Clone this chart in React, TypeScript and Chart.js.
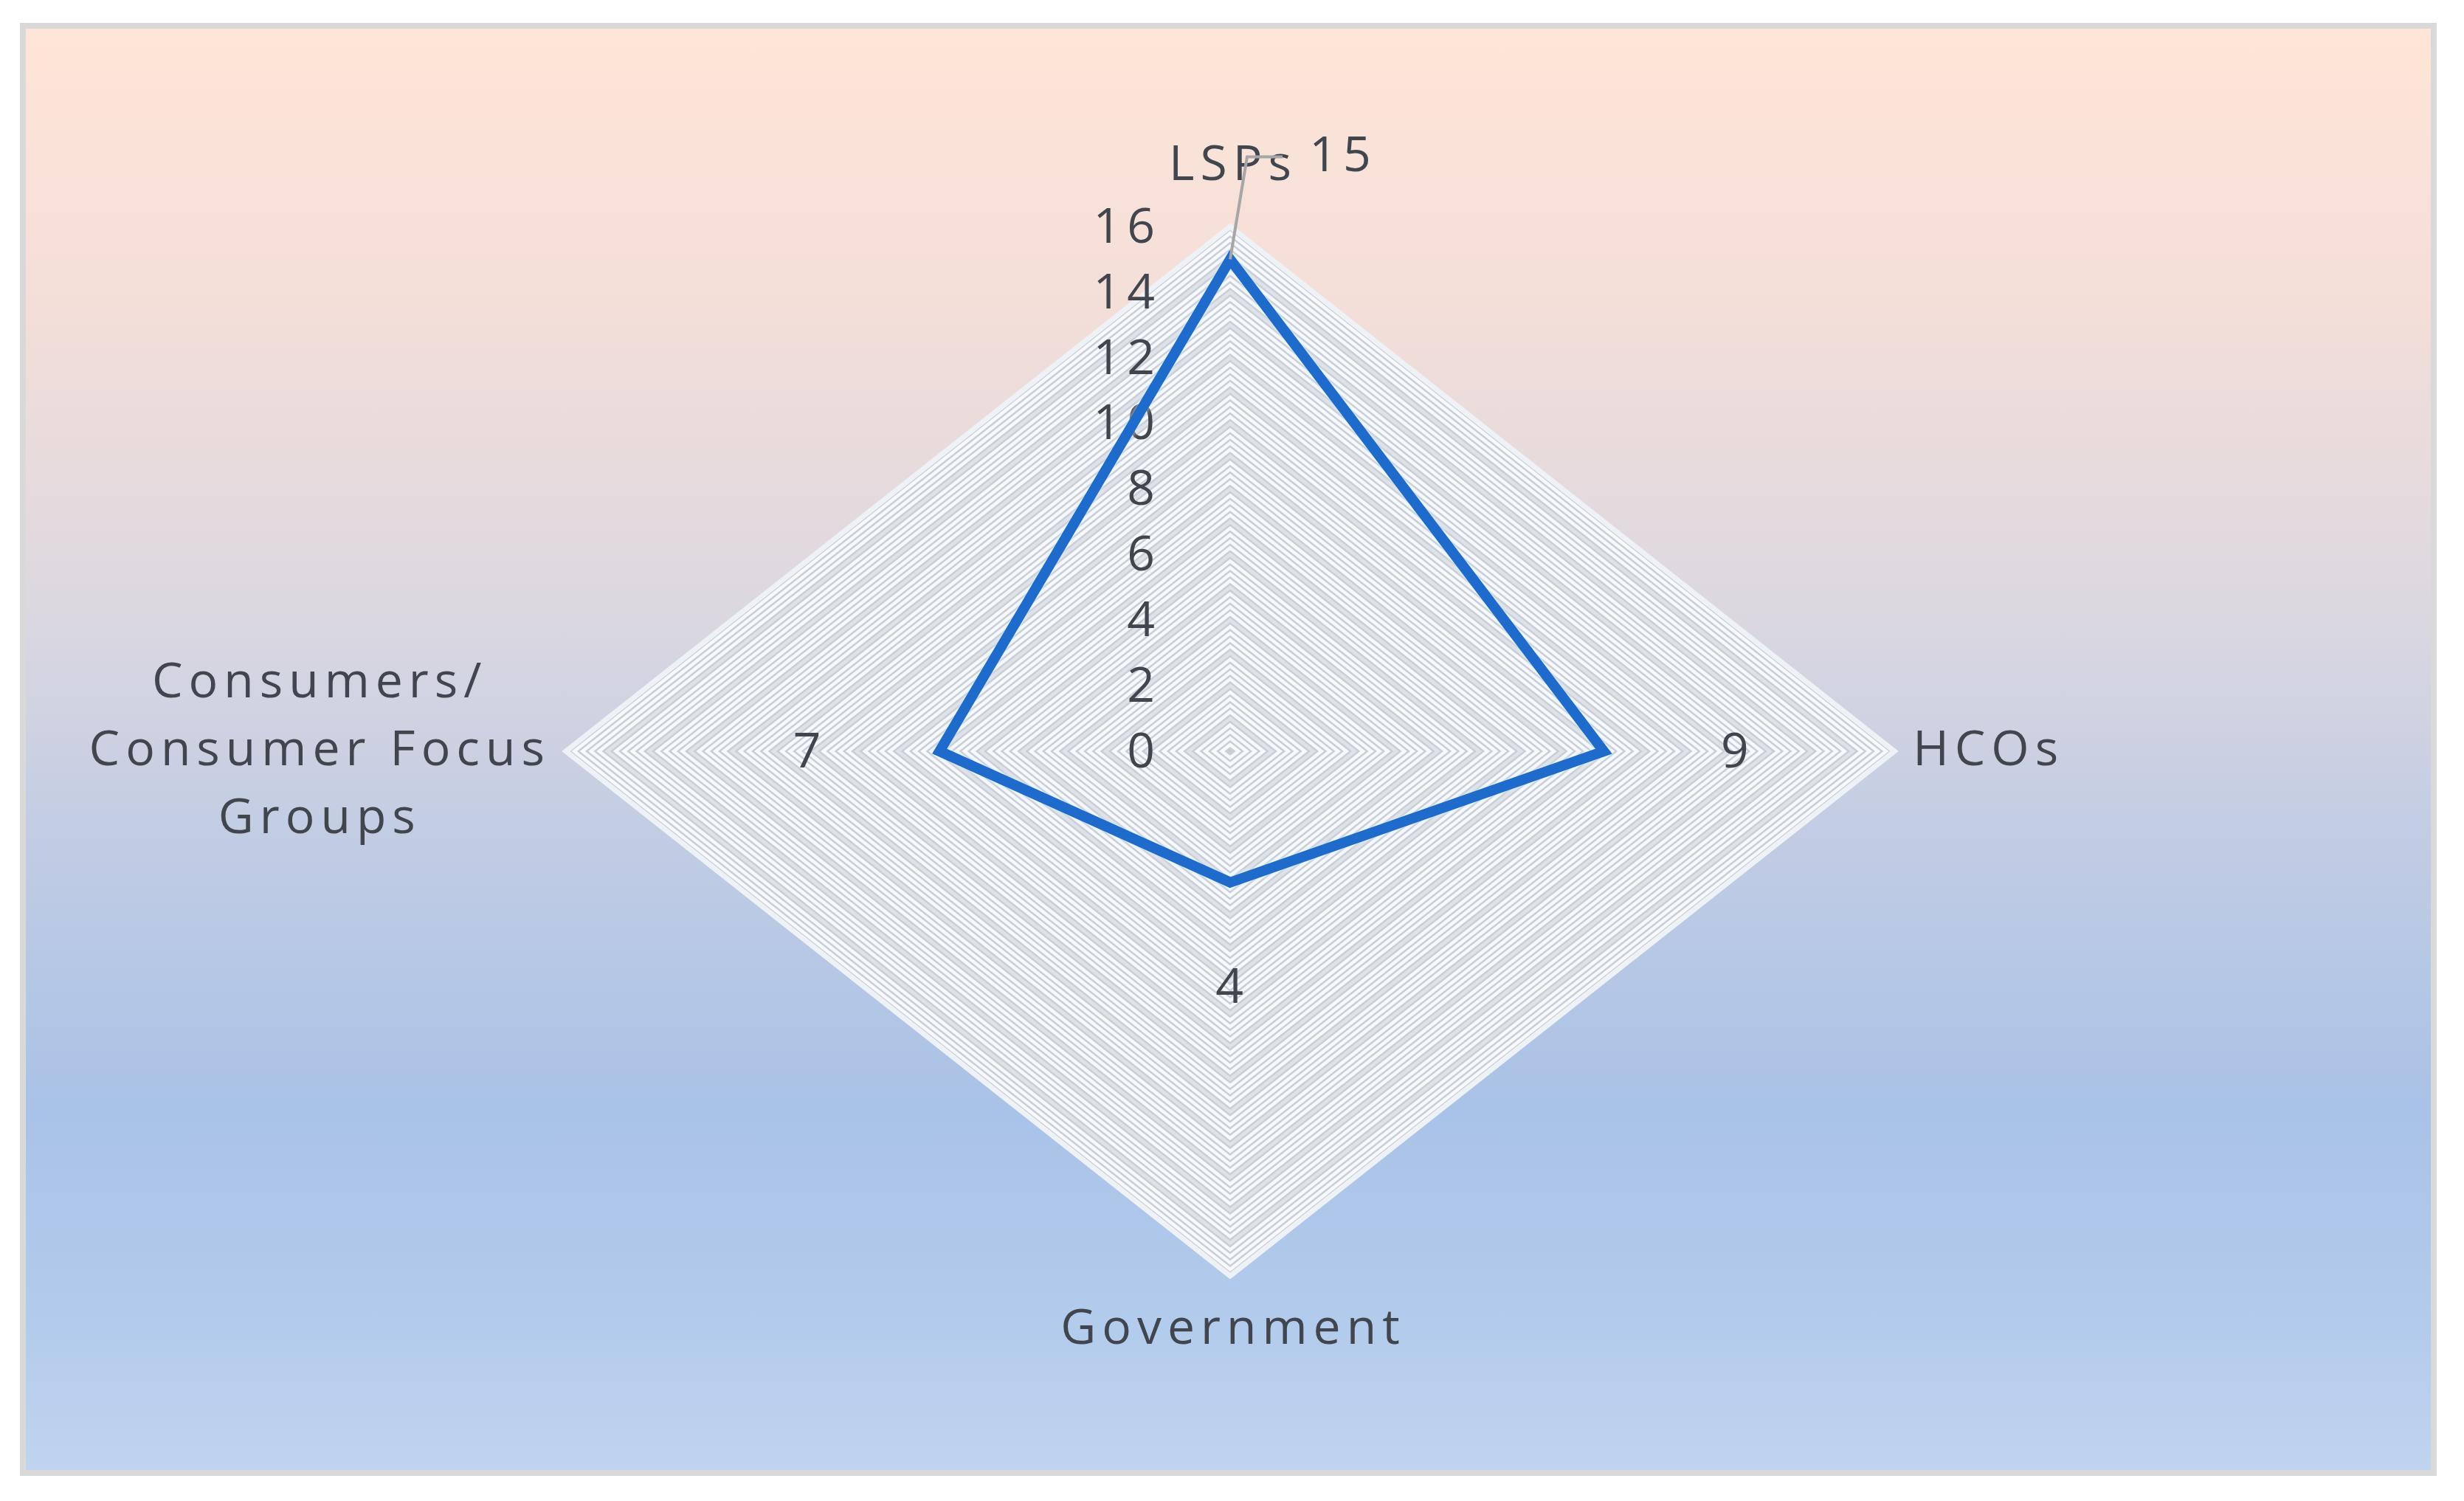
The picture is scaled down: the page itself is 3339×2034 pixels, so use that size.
import React, { useEffect, useRef } from 'react';
import { Chart, registerables, RadialLinearScale } from 'chart.js';

// ---------- data ----------
const categories: (string | string[])[] = [
  'LSPs',
  'HCOs',
  'Government',
  ['Consumers/', 'Consumer Focus', 'Groups'],
];
const seriesValues = [15, 9, 4, 7];
const tickLabels = ['0', '2', '4', '6', '8', '10', '12', '14', '16'];
const axisMin = 0;
const axisMax = 16;
const gridStep = 0.2;

// ---------- style ----------
const FONT_FAMILY = '"Open Sans", "DejaVu Sans", sans-serif';
const FONT_SIZE = 66;
const LETTER_SPACING = '8px';
const TEXT_COLOR = '#41464e';
const LINE_COLOR = '#1f6bcb';
const CANVAS_W = 3339;
const CANVAS_H = 2034;
const CENTER_X = 1667;
const CENTER_Y = 1018;
const RADIUS_Y = 711;
const KX = 1.266; // horizontal stretch of the radar (Excel-like non-square plot)

class StretchedRadialScale extends RadialLinearScale {
  static id = 'stretchedRadial';
  static defaults = RadialLinearScale.defaults;

  getPointPosition(index: number, distanceFromCenter: number, additionalAngle = 0) {
    const p: any = super.getPointPosition(index, distanceFromCenter, additionalAngle);
    return { x: this.xCenter + (p.x - this.xCenter) * KX, y: p.y, angle: p.angle };
  }

  setCenterPoint() {
    this.xCenter = CENTER_X;
    this.yCenter = CENTER_Y;
    this.drawingArea = RADIUS_Y;
  }

  drawGrid(chartArea: any) {
    // @ts-ignore
    super.drawGrid(chartArea);
    const ctx = this.ctx as any;
    const labels = ((this as any)._pointLabels || []) as (string | string[])[];
    ctx.save();
    ctx.font = `${FONT_SIZE}px ${FONT_FAMILY}`;
    ctx.letterSpacing = LETTER_SPACING;
    ctx.fillStyle = TEXT_COLOR;
    ctx.textBaseline = 'middle';
    ctx.textAlign = 'center';
    const lineH = 92;
    labels.forEach((lab, i) => {
      const lines = Array.isArray(lab) ? lab : [lab];
      const tip = this.getPointPosition(i, this.drawingArea);
      const dx = tip.x - this.xCenter;
      const dy = tip.y - this.yCenter;
      const blockW = Math.max(...lines.map((l) => ctx.measureText(l).width));
      const blockH = (lines.length - 1) * lineH;
      let cx: number;
      let cy: number;
      if (Math.abs(dy) > Math.abs(dx)) {
        cx = tip.x;
        cy = dy < 0 ? tip.y - 82 - blockH : tip.y + 73;
      } else {
        cx = dx > 0 ? tip.x + 21 + blockW / 2 : tip.x - 25 - blockW / 2;
        cy = tip.y - blockH / 2;
      }
      lines.forEach((l, k) => ctx.fillText(l, cx + 4, cy + k * lineH));
    });
    ctx.restore();
  }

  drawLabels() {
    const ctx = this.ctx as any;
    ctx.save();
    ctx.font = `${FONT_SIZE}px ${FONT_FAMILY}`;
    ctx.letterSpacing = LETTER_SPACING;
    ctx.fillStyle = TEXT_COLOR;
    ctx.textAlign = 'right';
    ctx.textBaseline = 'middle';
    (this.ticks as any[]).forEach((tick) => {
      if (!tick.label) return;
      const d = this.getDistanceFromCenterForValue(tick.value);
      ctx.fillText(String(tick.label), this.xCenter - 94, this.yCenter - d + 3);
    });
    ctx.restore();
  }
}

Chart.register(...registerables, StretchedRadialScale);

const valueLabelPlugin = {
  id: 'valueLabels',
  beforeDatasetsDraw(chart: any) {
    const ctx = chart.ctx;
    ctx.save();
    ctx.shadowColor = 'rgba(215,236,255,0.95)';
    ctx.shadowBlur = 7;
  },
  afterDatasetsDraw(chart: any) {
    const ctx = chart.ctx;
    ctx.restore();
    const meta = chart.getDatasetMeta(0);
    const scale = chart.scales.r;
    const values = chart.data.datasets[0].data as number[];
    ctx.save();
    ctx.font = `${FONT_SIZE}px ${FONT_FAMILY}`;
    ctx.letterSpacing = LETTER_SPACING;
    ctx.fillStyle = TEXT_COLOR;
    ctx.textAlign = 'center';
    ctx.textBaseline = 'middle';
    meta.data.forEach((pt: any, i: number) => {
      const v = values[i];
      const pos = scale.getPointPosition(i, scale.getDistanceFromCenterForValue(v) + 141);
      let x = pos.x;
      const y = pos.y;
      if (i === 0) {
        x += 150;
        ctx.save();
        ctx.strokeStyle = '#a6a6a6';
        ctx.lineWidth = 4;
        ctx.beginPath();
        ctx.moveTo(pt.x, pt.y);
        ctx.lineTo(pt.x + 23, y + 2);
        ctx.lineTo(x - 79, y + 2);
        ctx.stroke();
        ctx.restore();
      }
      ctx.fillText(String(v), x + 3, y + 3);
    });
    ctx.restore();
  },
};

export default function App() {
  const canvasRef = useRef<HTMLCanvasElement | null>(null);

  useEffect(() => {
    if (!canvasRef.current) return;
    const chart = new Chart(canvasRef.current, {
      type: 'radar',
      data: {
        labels: categories as any,
        datasets: [
          {
            data: seriesValues,
            borderColor: LINE_COLOR,
            borderWidth: 14,
            borderJoinStyle: 'miter',
            backgroundColor: 'transparent',
            fill: false,
            pointRadius: 0,
            pointHoverRadius: 0,
          },
        ],
      },
      options: {
        responsive: false,
        animation: false,
        devicePixelRatio: 1,
        layout: { padding: 0 },
        plugins: {
          legend: { display: false },
          tooltip: { enabled: false },
        },
        scales: {
          r: {
            type: 'stretchedRadial' as any,
            min: axisMin,
            max: axisMax,
            backgroundColor: '#c9ced7',
            angleLines: { display: false },
            grid: {
              color: (ctx: any) => {
                const v = ctx.tick ? ctx.tick.value : 0;
                if (v >= axisMax) return '#eef1f6';
                return Math.abs(v - Math.round(v)) < 1e-6 ? '#dfe2e8' : '#f7f9fd';
              },
              lineWidth: (ctx: any) => (ctx.tick && ctx.tick.value >= axisMax ? 7 : 4.5),
            },
            pointLabels: { display: false },
            ticks: {
              stepSize: gridStep,
              showLabelBackdrop: false,
              callback: (value: any) => {
                const s = String(Math.round(Number(value) * 1000) / 1000);
                return tickLabels.includes(s) ? s : '';
              },
            },
          } as any,
        },
      },
      plugins: [valueLabelPlugin],
    });
    return () => chart.destroy();
  }, []);

  return (
    <div style={{ position: 'absolute', left: 0, top: 0, width: CANVAS_W, height: CANVAS_H, overflow: 'hidden' }}>
      <div
        style={{
          position: 'absolute',
          left: 27,
          top: 31,
          width: 3275,
          height: 1969,
          boxSizing: 'border-box',
          border: '8px solid #d9d9d9',
          background:
            'linear-gradient(to bottom, #fee5d7 0%, #f3ded9 20%, #dcd8e0 40%, #c3cde3 55%, #a9c2e7 75%, #b3cbec 90%, #c0d4ef 100%)',
        }}
      />
      <canvas
        ref={canvasRef}
        width={CANVAS_W}
        height={CANVAS_H}
        style={{ position: 'absolute', left: 0, top: 0, width: CANVAS_W, height: CANVAS_H }}
      />
    </div>
  );
}
